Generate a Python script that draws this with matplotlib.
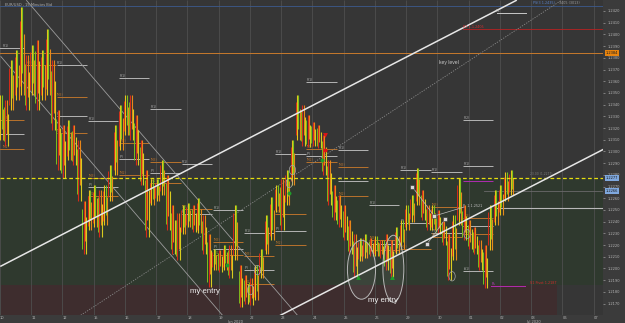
import matplotlib
matplotlib.use("Agg")
import matplotlib.pyplot as plt
from matplotlib.patches import Ellipse
import matplotlib.transforms as mtransforms

# ---------------- data ----------------
day_labels = ["10", "11", "12", "15", "16", "17", "18", "19", "22", "23",
              "24", "25", "26", "29", "30", "01", "02", "03", "06", "07"]
month_labels = ["Jun 2020", "Jul 2020"]
month_pos = [7.54, 17.09]
price_ticks = [1.2170, 1.2180, 1.2190, 1.2200, 1.2210, 1.2220, 1.2230, 1.2240,
               1.2250, 1.2260, 1.2270, 1.2280, 1.2290, 1.2300, 1.2310, 1.2320,
               1.2330, 1.2340, 1.2350, 1.2360, 1.2370, 1.2380, 1.2390, 1.2400,
               1.2410, 1.2420]

bar_start_day = 0.03
bars_per_day = 6
bar_high = [1.2348, 1.2344, 1.2378, 1.2387, 1.2423, 1.2382, 1.2391, 1.2395, 1.2387, 1.2405,
            1.2378, 1.2335, 1.2323, 1.2327, 1.2323, 1.2310, 1.2258, 1.2267, 1.2271, 1.2267,
            1.2271, 1.2288, 1.2323, 1.2340, 1.2348, 1.2348, 1.2331, 1.2310, 1.2284, 1.2276,
            1.2276, 1.2293, 1.2280, 1.2254, 1.2247, 1.2254, 1.2256, 1.2254, 1.2260, 1.2246,
            1.2229, 1.2217, 1.2216, 1.2220, 1.2220, 1.2254, 1.2203, 1.2194, 1.2192, 1.2203,
            1.2217, 1.2246, 1.2261, 1.2271, 1.2276, 1.2284, 1.2310, 1.2348, 1.2340, 1.2331,
            1.2325, 1.2323, 1.2314, 1.2293, 1.2271, 1.2263, 1.2254, 1.2241, 1.2229, 1.2226,
            1.2229, 1.2226, 1.2228, 1.2224, 1.2229, 1.2224, 1.2235, 1.2241, 1.2254, 1.2263,
            1.2286, 1.2267, 1.2254, 1.2254, 1.2250, 1.2243, 1.2229, 1.2246, 1.2277, 1.2254,
            1.2241, 1.2235, 1.2224, 1.2220, 1.2254, 1.2267, 1.2271, 1.2282, 1.2284]
bar_low = [1.2310, 1.2305, 1.2335, 1.2344, 1.2348, 1.2335, 1.2348, 1.2335, 1.2344, 1.2348,
           1.2318, 1.2284, 1.2277, 1.2293, 1.2288, 1.2258, 1.2212, 1.2233, 1.2235, 1.2227,
           1.2237, 1.2258, 1.2280, 1.2301, 1.2314, 1.2310, 1.2288, 1.2271, 1.2227, 1.2254,
           1.2258, 1.2263, 1.2233, 1.2212, 1.2207, 1.2229, 1.2235, 1.2231, 1.2230, 1.2212,
           1.2184, 1.2199, 1.2197, 1.2199, 1.2192, 1.2207, 1.2167, 1.2170, 1.2169, 1.2173,
           1.2192, 1.2212, 1.2224, 1.2248, 1.2233, 1.2254, 1.2271, 1.2310, 1.2305, 1.2304,
           1.2305, 1.2303, 1.2280, 1.2254, 1.2241, 1.2235, 1.2224, 1.2212, 1.2193, 1.2206,
           1.2209, 1.2211, 1.2211, 1.2209, 1.2199, 1.2193, 1.2212, 1.2217, 1.2233, 1.2240,
           1.2254, 1.2241, 1.2233, 1.2233, 1.2229, 1.2220, 1.2190, 1.2207, 1.2237, 1.2224,
           1.2217, 1.2212, 1.2199, 1.2183, 1.2216, 1.2237, 1.2246, 1.2258, 1.2263]

# zones
support_zone = (1.21858, 1.22773)
entry_zone_top = 1.21858
entry_zone_end_day = 17.83

# horizontal levels
key_level = 1.2384
dashed_level = 1.22773
bid_level = 1.2266
pivot_p_level = 1.22516
r1_level = 1.24046
ps_level = 1.24243
r3_level = 1.24183
ps_low_level = 1.2185

# trend lines (day, price) endpoints
channel_upper = [(0.03, 1.2202), (16.52, 1.2429)]
channel_lower = [(8.98, 1.2160), (19.33, 1.2302)]
down_line_a = [(0.85, 1.2429), (9.52, 1.2160)]
down_line_b = [(0.03, 1.2381), (7.12, 1.2160)]
dotted_line = [(2.585, 1.2160), (17.96, 1.2429)]

# daily pivot segments: (day, price, kind, label)
pivot_segments = [
    (0, 1.23884, "w", "(R1)"), (0, 1.23268, "o", "(M3)"), (0, 1.23149, "w", "(P)"), (0, 1.23021, "o", "(M2)"),
    (1, 1.23738, "o", "(M3)"),
    (2, 1.23738, "w", "(R1)"), (2, 1.23465, "o", "(M3)"), (2, 1.23303, "w", "(P)"), (2, 1.23157, "o", "(M2)"),
    (3, 1.23260, "w", "(R1)"), (3, 1.22773, "o", "(M3)"), (3, 1.22696, "w", "(P)"), (3, 1.22619, "o", "(M2)"),
    (4, 1.23627, "w", "(R1)"), (4, 1.23072, "o", "(M3)"), (4, 1.22935, "w", "(P)"), (4, 1.22798, "o", "(M2)"),
    (5, 1.23362, "w", "(R1)"), (5, 1.22909, "o", "(M3)"), (5, 1.22815, "w", "(P)"), (5, 1.22730, "o", "(M2)"),
    (6, 1.22892, "w", "(R1)"), (6, 1.22508, "o", "(M3)"), (6, 1.22465, "w", "(P)"),
    (7, 1.22499, "w", "(R1)"), (7, 1.22226, "o", "(M3)"), (7, 1.22166, "w", "(P)"), (7, 1.22115, "o", "(M2)"),
    (8, 1.22303, "w", "(R1)"), (8, 1.22106, "o", "(M3)"), (8, 1.21986, "w", "(P)"), (8, 1.21867, "o", "(M2)"),
    (9, 1.22978, "w", "(R1)"), (9, 1.22465, "o", "(M3)"), (9, 1.22320, "w", "(P)"), (9, 1.22200, "o", "(M2)"),
    (10, 1.23593, "w", "(R1)"), (10, 1.23021, "o", "(M3)"), (10, 1.22961, "w", "(P)"), (10, 1.22909, "o", "(M2)"),
    (11, 1.23012, "w", "(R1)"), (11, 1.22867, "o", "(M3)"), (11, 1.22747, "w", "(P)"), (11, 1.22619, "o", "(M2)"),
    (12, 1.22542, "w", "(R1)"), (12, 1.22243, "o", "(M3)"), (12, 1.22209, "w", "(P)"), (12, 1.22157, "o", "(M2)"),
    (13, 1.22841, "w", "(R1)"), (13, 1.22388, "w", "(P)"), (13, 1.22166, "o", "(M2)"),
    (14, 1.22824, "w", "(R1)"), (14, 1.22525, "o", "(M3)"), (14, 1.22303, "w", "(P)"), (14, 1.22268, "o", "(M2)"),
    (15, 1.23268, "w", "(R2)"), (15, 1.22875, "w", "(R1)"), (15, 1.22747, "m", ""), (15, 1.22431, "o", "(M3)"),
    (15, 1.22362, "w", "(P)"), (15, 1.22294, "o", "(M2)"), (15, 1.21978, "w", "(S1)"),
]

# markers
green_arrows = [(11.47, 1.21927), (12.56, 1.21927)]
green_dots = [(10.32, 1.22926), (7.28, 1.22029), (9.26, 1.22644)]
red_arrows = [(10.41, 1.23140)]
red_dots = [(10.41, 1.23012)]
white_squares = [(13.20, 1.22696), (13.90, 1.22448), (14.25, 1.22422), (13.67, 1.22209)]
square_links = [[(13.20, 1.22696), (13.90, 1.22448)], [(13.90, 1.22448), (14.86, 1.22525)],
                [(13.67, 1.22209), (14.25, 1.22422)]]
swing_circles = [(9.36, 1.22841), (9.26, 1.22730), (8.02, 1.21815), (8.24, 1.21986),
                 (14.95, 1.22294), (14.47, 1.21933)]
entry_ellipses = [(11.57, 1.21989, 0.90, 0.00504), (12.59, 1.21997, 0.67, 0.00573)]
entry_texts = [(6.55, 1.21807), (12.27, 1.21722)]

# ---------------- figure ----------------
W, H = 625, 323
fig = plt.figure(figsize=(W / 100, H / 100), dpi=100)
fig.patch.set_facecolor('#3b3b3b')
ax = fig.add_axes([0, 8 / H, 603 / W, 315 / H])
ax.set_facecolor('#363636')
XMIN, XMAX = 0.029, 19.30
YMIN, YMAX = 1.21602, 1.24294
ax.set_xlim(XMIN, XMAX)
ax.set_ylim(YMIN, YMAX)
for s in ax.spines.values():
    s.set_visible(False)

# zones
ax.axhspan(support_zone[0], support_zone[1], color='#2f392e', zorder=0, lw=0)
ax.fill_between([XMIN, entry_zone_end_day], YMIN, entry_zone_top, color='#3e2d2e', zorder=0, lw=0)

# grid
ax.vlines(range(len(day_labels)), YMIN, YMAX, colors='#4e4e4e', lw=0.6, zorder=1)

# pivot segments
kcol = {"w": '#b4b4b4', "o": '#b9722c', "m": '#b02cb0'}
for day, price, kind, lab in pivot_segments:
    x0 = day - 0.19
    ax.plot([x0, x0 + 0.97], [price, price], color=kcol[kind], lw=0.7, zorder=2,
            solid_capstyle='butt')
    if lab:
        ax.text(max(x0, XMIN + 0.03) + 0.02, price + 0.00003, lab, color=kcol[kind], fontsize=2.2,
                va='bottom', ha='left', zorder=3)

# horizontal levels
ax.axhline(key_level, color='#c77a2c', lw=0.7, zorder=2)
ax.axhline(ps_level, color='#3c5a8e', lw=0.6, zorder=2)
ax.plot([14.83, XMAX], [r1_level, r1_level], color='#b82222', lw=0.6, zorder=2)
ax.plot([15.9, 16.85], [r3_level, r3_level], color='#c8c8c8', lw=0.7, zorder=2)
ax.plot([15.9, XMAX], [pivot_p_level, pivot_p_level], color='#b8b8b8', lw=0.8, zorder=2)
ax.plot([15.5, XMAX], [bid_level, bid_level], color='#6a6a6a', lw=0.6, zorder=2)
ax.plot([15.7, 16.8], [ps_low_level, ps_low_level], color='#b02cb0', lw=0.7, zorder=2)
ax.axhline(dashed_level, color='#e8dc10', lw=0.9, ls=(0, (3, 2)), zorder=6)

# trend lines
def seg(pts, **kw):
    ax.plot([pts[0][0], pts[1][0]], [pts[0][1], pts[1][1]], **kw)

seg(down_line_a, color='#9c9c9c', lw=0.6, zorder=3)
seg(down_line_b, color='#9c9c9c', lw=0.6, zorder=3)
seg(dotted_line, color='#888888', lw=0.6, ls=(0, (1.5, 1.5)), zorder=3)

# price bars
n = len(bar_high)
dx = 1.3 / 31.29
for i in range(n):
    t = bar_start_day + i / bars_per_day
    hi, lo = bar_high[i], bar_low[i]
    mid = (hi + lo) / 2
    prev_mid = (bar_high[i - 1] + bar_low[i - 1]) / 2 if i > 0 else mid
    rng = hi - lo
    if mid >= prev_mid:
        cols = ['#e8c51a', '#7cc21c', '#e88a1a', '#d52a1a']
    else:
        cols = ['#d52a1a', '#e8861a', '#d8cc20', '#7cc21c']
    ax.vlines(t - 1.5 * dx, lo + 0.1 * rng, hi - 0.15 * rng, colors=cols[3], lw=0.7, zorder=4)
    ax.vlines(t - 0.5 * dx, lo, hi, colors=cols[0], lw=0.8, zorder=4)
    ax.vlines(t + 0.5 * dx, lo + 0.25 * rng, hi, colors=cols[1], lw=0.8, zorder=4)
    ax.vlines(t + 1.5 * dx, lo, hi - 0.3 * rng, colors=cols[2], lw=0.8, zorder=4)

# channel lines over bars
seg(channel_upper, color='#e6e6e6', lw=1.1, zorder=7)
seg(channel_lower, color='#e6e6e6', lw=1.1, zorder=7)

# swing circles and entry ellipses
for cx, cy in swing_circles:
    ax.add_patch(Ellipse((cx, cy), 0.2, 0.0008, fill=False, ec='#a8a8a8', lw=0.5, zorder=5))
for cx, cy, w, h in entry_ellipses:
    ax.add_patch(Ellipse((cx, cy), w, h, fc=(1, 1, 1, 0.06), ec='#b8b8b8', lw=0.7, zorder=5))

# links and markers
for lk in square_links:
    seg(lk, color='#bdbdbd', lw=0.5, zorder=5)
ax.scatter(*zip(*white_squares), marker='s', s=7, c='#d8d8d8', edgecolors='#303030', lw=0.4, zorder=8)
ax.scatter(*zip(*green_arrows), marker='^', s=12, c='#1f9e2a', zorder=8, lw=0)
ax.scatter(*zip(*green_dots), marker='o', s=8, c='#1f9e2a', zorder=8, lw=0)
ax.scatter(*zip(*red_arrows), marker='v', s=12, c='#e01414', zorder=8, lw=0)
ax.scatter(*zip(*red_dots), marker='o', s=8, c='#e01414', zorder=8, lw=0)

# texts
for tx, ty in entry_texts:
    ax.text(tx, ty, "my entry", color='#f0f0f0', fontsize=5.6, family='Liberation Sans',
            ha='center', va='center', zorder=9)
ax.text(14.38, 1.23756, "key level", color='#c8c8c8', fontsize=3.6, family='Liberation Sans',
        ha='center', va='center', zorder=9)
ax.text(14.83, r1_level + 0.00004, "R1 1.1.2405", color='#d03030', fontsize=2.4, ha='left', va='bottom', zorder=9)
ax.text(15.85, r3_level + 0.00003, "R3", color='#c8c8c8', fontsize=2.4, ha='left', va='bottom', zorder=9)
ax.text(17.06, 1.24270, "PS(3 1.2435)", color='#5a82c8', fontsize=2.4, ha='left', va='center', zorder=9)
ax.text(17.90, 1.24270, "3405 (3013)", color='#9a9a9a', fontsize=2.4, ha='left', va='center', zorder=9)
ax.text(14.83, pivot_p_level + 0.00004, "P  1.1.2521", color='#c0c0c0', fontsize=2.4, ha='left', va='bottom', zorder=9)
ax.text(16.97, 1.21875, "S1 Pivot 1.2187", color='#d02a2a', fontsize=2.4, ha='left', va='center', zorder=9)
ax.text(15.72, ps_low_level + 0.00003, "Ps", color='#c040c0', fontsize=2.4, ha='left', va='bottom', zorder=9)
ax.text(16.97, 1.22790, "23.00 (1.2277)", color='#7a7a7a', fontsize=2.2, ha='left', va='bottom', zorder=9)
fig.text(5 / W, 1 - 5 / H, "EUR/USD - 15 Minutes Bid", color='#b0b0b0', fontsize=2.6, ha='left', va='center')

# axes ticks
ax.set_xticks(range(len(day_labels)))
ax.set_xticklabels(day_labels, ha='left')
ax.set_yticks(price_ticks)
ax.set_yticklabels([f"{v:.4f}" for v in price_ticks])
ax.tick_params(axis='x', length=0, pad=1.0, labelsize=2.6, colors='#b4b4b4')
ax.tick_params(axis='y', left=False, labelleft=False, right=True, labelright=True,
               length=1.5, width=0.4, pad=1.5, labelsize=2.6, colors='#b4b4b4')
for name, pos in zip(month_labels, month_pos):
    ax.text(pos, -0.022, name, transform=mtransforms.blended_transform_factory(ax.transData, ax.transAxes),
            color='#b4b4b4', fontsize=2.6, ha='center', va='center', clip_on=False)

# price boxes on the axis
trans = mtransforms.blended_transform_factory(ax.transAxes, ax.transData)
for val, fc in [(key_level, '#e8840e'), (dashed_level, '#7fa8de'), (bid_level, '#7fa8de')]:
    ax.text(1.004, val, f"{val:.4f}", transform=trans, fontsize=2.6, color='#1a1a1a',
            ha='left', va='center', clip_on=False, zorder=10,
            bbox=dict(boxstyle='square,pad=0.25', fc=fc, ec='none'))

fig.savefig("out.png", dpi=100, facecolor=fig.get_facecolor())
